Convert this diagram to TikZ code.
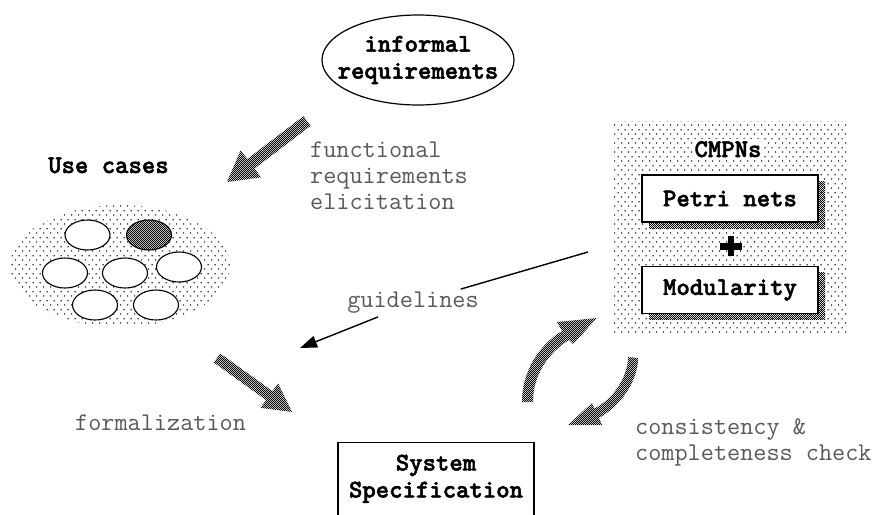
\documentclass[tikz,border=0pt]{standalone}
\usepackage{fontspec}
\newfontfamily\monobold{lmmonolt10-bold.otf}[FakeBold=2]
\usetikzlibrary{shapes.geometric,arrows.meta,patterns,shadows,calc}

% sparse stipple used for the grouping areas
\pgfdeclarepatternformonly{stipple}{\pgfqpoint{0pt}{0pt}}{\pgfqpoint{7.4pt}{8.6pt}}{\pgfqpoint{7.4pt}{8.6pt}}{%
  \pgfpathcircle{\pgfqpoint{1.8pt}{2.1pt}}{0.8pt}%
  \pgfpathcircle{\pgfqpoint{5.5pt}{6.4pt}}{0.8pt}%
  \pgfusepath{fill}}
% fine dither used for the fat arrows and shadows
\pgfdeclarepatternformonly{checker}{\pgfqpoint{0pt}{0pt}}{\pgfqpoint{2.4pt}{2.4pt}}{\pgfqpoint{2.4pt}{2.4pt}}{%
  \pgfpathrectangle{\pgfqpoint{0pt}{0pt}}{\pgfqpoint{1.2pt}{1.2pt}}%
  \pgfpathrectangle{\pgfqpoint{1.2pt}{1.2pt}}{\pgfqpoint{1.2pt}{1.2pt}}%
  \pgfusepath{fill}}

\tikzset{
  boldtxt/.style={font=\monobold\fontsize{25.5pt}{27pt}\selectfont, align=center, inner sep=0pt},
  graytxt/.style={font=\ttfamily\fontsize{25.5pt}{26pt}\selectfont, text=black!65, align=left, inner sep=0pt},
  stippled/.style={pattern=stipple, pattern color=black},
  dithered/.style={pattern=checker, pattern color=black, preaction={fill=black!12}},
  caseshape/.style={ellipse, draw, line width=1.1pt, minimum width=45pt, minimum height=30pt, inner sep=0pt},
  usecase/.style={caseshape, fill=white},
  hotcase/.style={caseshape, dithered},
  netbox/.style={boldtxt, draw, line width=1.2pt, fill=white, minimum width=176pt, minimum height=47pt,
    general shadow={shadow xshift=7pt, shadow yshift=-6pt, pattern=checker, pattern color=black}},
}

\begin{document}
\begin{tikzpicture}[x=1pt, y=-1pt]
\useasboundingbox (0,0) rectangle (882,514);

% informal requirements
\node[ellipse, draw, line width=1.2pt, minimum width=192pt, minimum height=90pt, inner sep=0pt,
  label={[boldtxt]center:informal\\requirements}] (inf) at (418,60) {};

% use cases
\node[boldtxt, anchor=base west] (uctitle) at (48,173) {Use cases};
\node[stippled, ellipse, minimum width=220pt, minimum height=122pt, inner sep=0pt] (ucs) at (120,266) {};
\node[usecase] (u1) at (87.5,235) {};
\node[hotcase] (u2) at (149,235) {};
\node[usecase] (u3) at (65,273) {};
\node[usecase] (u4) at (125,273) {};
\node[usecase] (u5) at (179,267) {};
\node[usecase] (u6) at (95,305) {};
\node[usecase] (u7) at (156,305) {};

% CMPNs block
\node[stippled, minimum width=235pt, minimum height=211pt, inner sep=0pt] (cmpn) at (729.5,226.5) {};
\node[boldtxt, fill=white, inner sep=2pt, anchor=base] (cmpnlbl) at (728,157) {CMPNs};
\node[netbox] (petri) at (730,198.5) {Petri nets};
\node[netbox] (modul) at (730,290) {Modularity};
\coordinate (plus) at ($(petri.south)!0.5!(modul.north)+(1,2)$);
\draw[line width=6.5pt] ($(plus)+(-11,0)$) -- ($(plus)+(11,0)$)
                        ($(plus)+(0,-10)$) -- ($(plus)+(0,10)$);

% system specification
\node[boldtxt, draw, line width=1.2pt, minimum width=196pt, inner ysep=12pt, text depth=40pt,
  anchor=north] (spec) at (436,442) {System\\Specification};

% process labels
\node[graytxt, anchor=north west] (fre) at (310,142) {functional\\requirements\\elicitation};
\node[graytxt, anchor=base west] (form) at (75,430) {formalization};
\node[graytxt, anchor=north west] (cons) at (635,418) {consistency \&\\completeness check};
\node[graytxt, inner sep=3pt] (guide) at (413,303) {guidelines};

% guidelines connector
\coordinate (gfrom) at (588,252);
\coordinate (gto) at (300,348);
\draw[line width=1.4pt] (gfrom) -- (guide);
\draw[line width=1.4pt, -{Triangle[length=17pt,width=12pt]}] (guide) -- (gto);

% fat straight arrows
\path[dithered] (303.4,116.2) -- (310.6,125.8) -- (254.5,168.6) -- (261.2,177.3) -- (227,182)
  -- (240.6,150.3) -- (247.3,159.0) -- cycle;
\path[dithered] (220.2,353.5) -- (272.5,391.1) -- (278.1,383.4) -- (292,412) -- (260.5,407.8)
  -- (266.1,400.1) -- (213.8,362.5) -- cycle;

% fat curved arrows (round trip)
\path[dithered] (522,402) .. controls (522,372) and (538,346) .. (562,331) -- (557,322) -- (597,318)
  -- (573,344) -- (569,340) .. controls (548,353) and (533,375) .. (533,402) -- cycle;
\path[dithered] (628,357) .. controls (628,375) and (615,398) .. (594.5,408.5) -- (592,403) -- (568,425)
  -- (602,425) -- (599,418) .. controls (622,405) and (638,380) .. (638,358) -- cycle;
\end{tikzpicture}
\end{document}
